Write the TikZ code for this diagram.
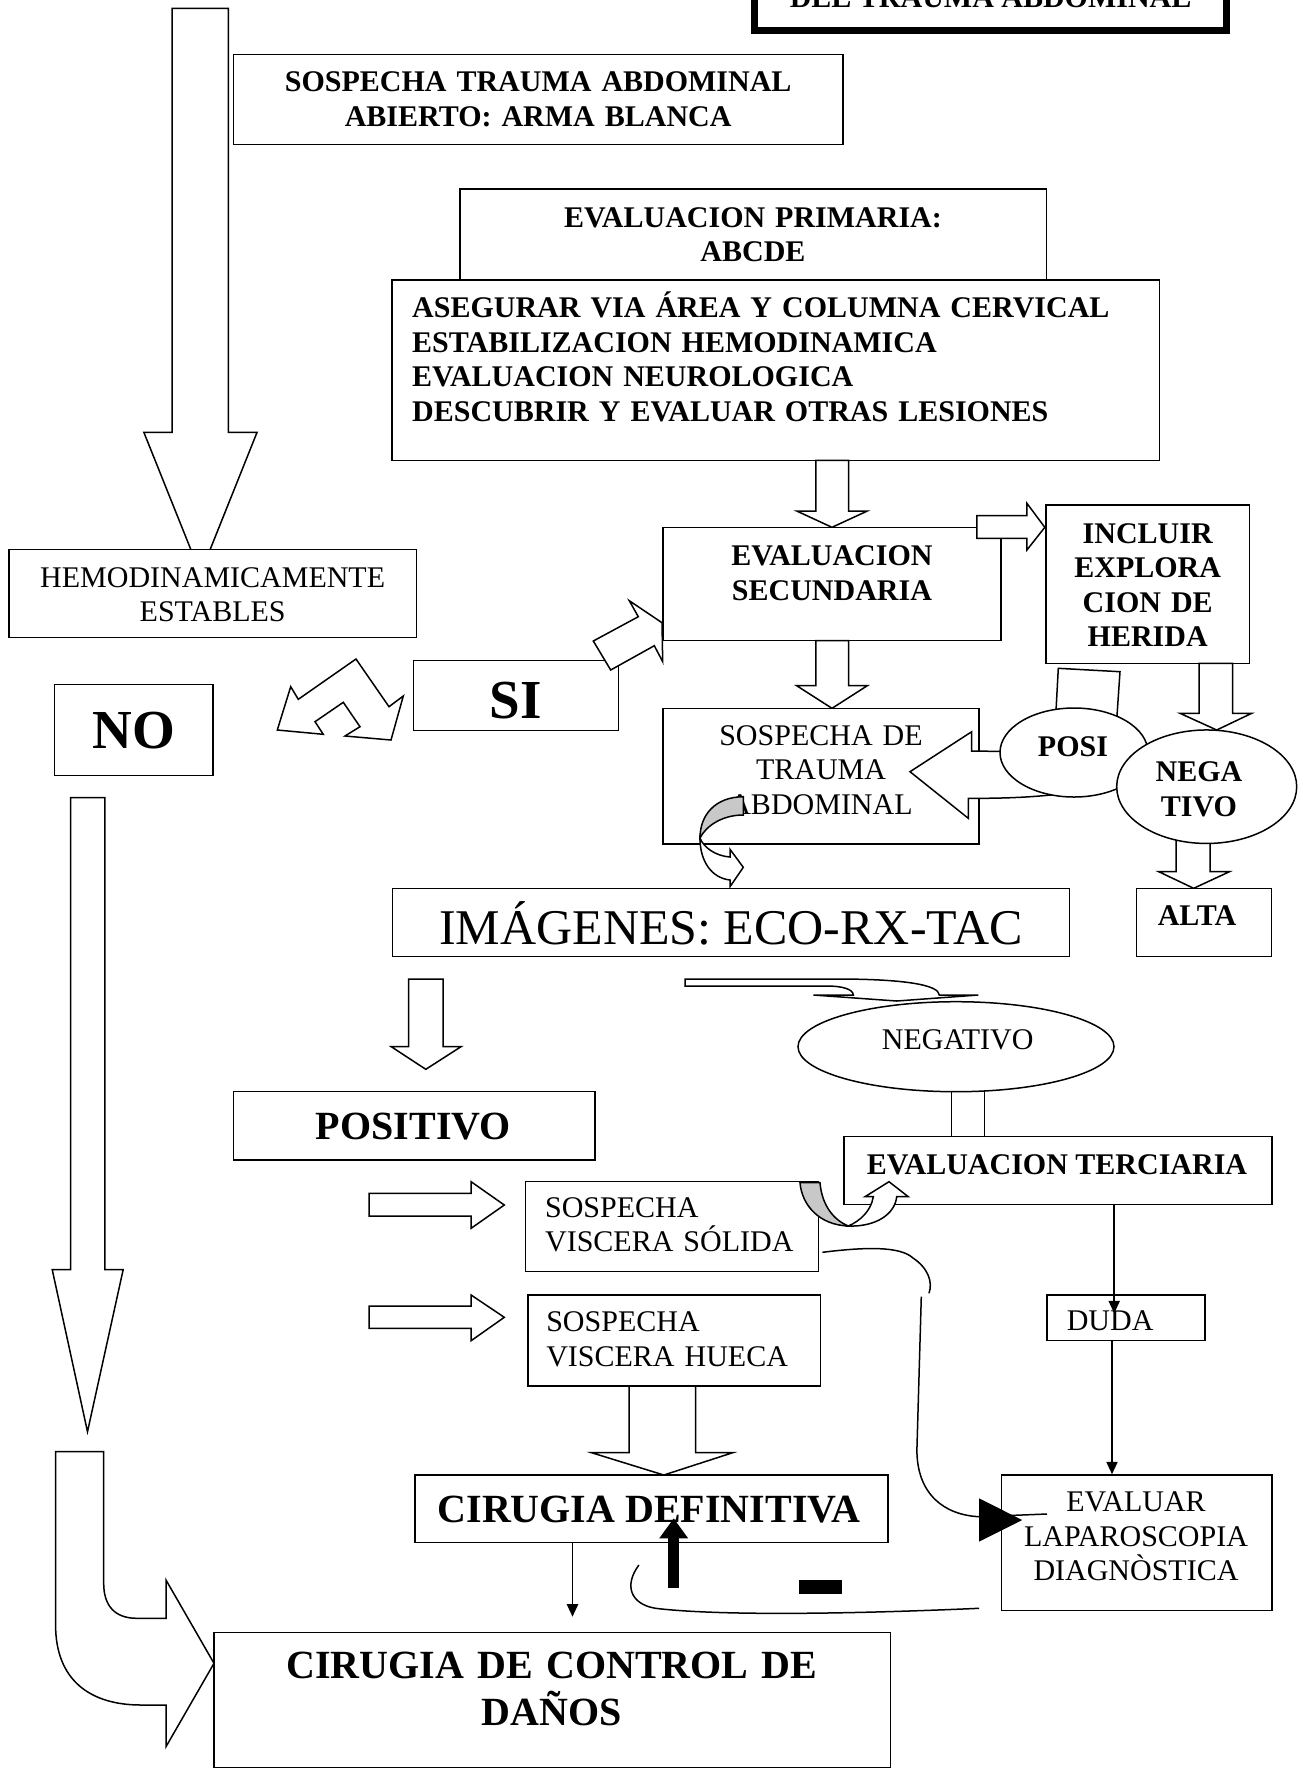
\documentclass[tikz,border=0pt]{standalone}
\usepackage{fontspec}
\setmainfont{Liberation Serif}
\usetikzlibrary{arrows.meta}
\usetikzlibrary{shapes}
\usetikzlibrary{fit}

\definecolor{bandgray}{RGB}{200,200,200}
\tikzset{
  box/.style={draw, fill=white, line width=0.6pt, inner sep=0pt},
  oval/.style={draw, fill=white, line width=0.6pt, ellipse, inner sep=0pt},
  blk/.style={draw, fill=white, line width=0.6pt, line join=miter},
  txt/.style={inner sep=0pt, anchor=base, font=\fontsize{12}{13.8}\selectfont},
  btxt/.style={txt, font=\fontsize{12}{13.8}\selectfont\bfseries},
  lnk/.style={draw, line width=0.6pt},
}

\begin{document}
\begin{tikzpicture}[x=0.4pt,y=-0.4pt,>={Triangle[length=5pt,width=4.5pt]}]
\useasboundingbox (0,0) rectangle (1301,1769);

% titulo
\node[box, line width=2.8pt, fit={(754.4,-60) (1226.9,30.2)}] (tit) {};
\node[btxt] (tit-t) at (990.6,7) {DEL TRAUMA ABDOMINAL};

% flecha grande izquierda
\draw[blk] (172,8.4) -- (228.4,8.4) -- (228.4,432.4) -- (257,432.4) -- (200.5,573.6) -- (143.9,432.4) -- (172,432.4) -- cycle;

\node[box, fit={(233.4,54.3) (843,144.3)}] (susp) {};
\node[btxt, text width=230pt, align=center] (susp-t) at (538.2,91.8) {SOSPECHA TRAUMA ABDOMINAL\\ABIERTO: ARMA BLANCA};

\node[box, fit={(459.8,189) (1046.5,279.8)}] (prim) {};
\node[btxt, text width=200pt, align=center] (prim-t) at (753,227.3) {EVALUACION PRIMARIA:\\ABCDE};

\node[box, fit={(391.8,279.8) (1159.4,460.4)}] (aseg) {};
\node[btxt, anchor=base west, text width=300pt, align=left] (aseg-t) at (411.7,317.6) {ASEGURAR VIA ÁREA Y COLUMNA CERVICAL\\ESTABILIZACION HEMODINAMICA\\EVALUACION NEUROLOGICA\\DESCUBRIR Y EVALUAR OTRAS LESIONES};

\draw[blk] (815.9,460.4) -- (848.5,460.4) -- (848.5,511) -- (867.3,511) -- (832,527.3) -- (796.7,511) -- (815.9,511) -- cycle;

\node[box, fit={(663,527.3) (1001,640.7)}] (sec) {};
\node[btxt, text width=120pt, align=center] (sec-t) at (832,565.7) {EVALUACION\\SECUNDARIA};
\draw[blk] (976.8,515.7) -- (1026.9,515.7) -- (1026.9,503.3) -- (1044.8,527.3) -- (1026.9,550) -- (1026.9,538.3) -- (976.8,538.3) -- cycle;

\node[box, fit={(1046.1,505) (1249.5,663.3)}] (incl) {};
\node[btxt, text width=80pt, align=center] (incl-t) at (1147.7,543.3) {INCLUIR\\EXPLORA\\CION DE\\HERIDA};

\node[box, fit={(8.9,549.3) (416.5,637.7)}] (hemo) {};
\node[txt, text width=180pt, align=center] (hemo-t) at (212.7,587.3) {HEMODINAMICAMENTE\\ESTABLES};

% SI / NO
\node[box, fit={(413.4,660.7) (618.3,730.7)}] (si) {};
\node[txt, font=\fontsize{22}{26}\selectfont\bfseries] (si-t) at (515.8,718.3) {SI};
\draw[blk] (593.3,641) -- (638.3,616.7) -- (629.3,600.7) -- (662,622.7) -- (662.7,661.7) -- (654.3,645.7) -- (610.7,670) -- cycle;
\draw[blk] (277.3,730) -- (290.7,686.7) -- (298.3,699.3) -- (356,659) -- (389,706.7) -- (403.3,696) -- (391,740) -- (345,736) -- (360,726.7) -- (343.3,702.3) -- (315,721.7) -- (323.3,734.3) -- cycle;

\node[box, fit={(54.5,684.3) (213,775.3)}] (no) {};
\node[txt, font=\fontsize{22}{26}\selectfont\bfseries] (no-t) at (133.7,748.3) {NO};
\draw[blk] (70.5,797.7) -- (104.9,797.7) -- (104.9,1269.5) -- (123.2,1269.5) -- (87.5,1431.7) -- (52.2,1269.5) -- (70.5,1269.5) -- cycle;

% secundaria hacia abajo
\draw[blk] (815.9,640.7) -- (848.5,640.7) -- (848.5,685.7) -- (867.3,685.7) -- (832,708.3) -- (796.7,685.7) -- (815.9,685.7) -- cycle;
\node[box, fit={(663,708.3) (979,844)}] (sosp) {};
\node[txt, text width=110pt, align=center] (sosp-t) at (821,745) {SOSPECHA DE\\TRAUMA\\ABDOMINAL};

% POSI / NEGATIVO
\draw[blk] (1040,752) -- (971.7,751) -- (971.7,731.7) -- (910,771.7) -- (968.3,818.3) -- (968.3,798.3) .. controls (1000,798.5) and (1030,797.5) .. (1060,794) -- cycle;
\draw[blk] (1058.3,668.3) -- (1120,671.7) -- (1116.7,720) -- (1055.5,720) -- cycle;
\node[oval, minimum width=59.2pt, minimum height=35.6pt] (posi) at (1074,752.5) {};
\node[btxt] (posi-t) at (1073,756.7) {POSI};
\draw[blk] (1199,663.3) -- (1232.7,663.3) -- (1232.7,713.3) -- (1251.7,713.3) -- (1216.7,730) -- (1180,713.3) -- (1199,713.3) -- cycle;
\draw[blk] (1176,835) -- (1210,835) -- (1210,871.7) -- (1229.4,871.7) -- (1193.7,888.3) -- (1158.8,871.7) -- (1176,871.7) -- cycle;
\node[oval, minimum width=72pt, minimum height=45.4pt] (nega) at (1206.7,786.7) {};
\node[btxt, text width=50pt, align=center] (nega-t) at (1199,781.7) {NEGA\\TIVO};

\node[box, fit={(1136.4,888.3) (1271.7,956.7)}] (alta) {};
\node[btxt] (alta-t) at (1197,925) {ALTA};

% flecha curva gris
\filldraw[fill=bandgray, line width=0.6pt] (743.3,796.7) .. controls (715,797) and (700,815) .. (700,838) .. controls (706,826) and (722,815) .. (743.3,815) -- cycle;
\draw[blk] (700,838) .. controls (700,862) and (712,878) .. (730,880) -- (730,886.7) -- (743.3,867.3) -- (730,849.3) -- (730,857) .. controls (716,856) and (704,848) .. (700,838) -- cycle;

% imagenes
\node[box, fit={(392.6,888.7) (1069.5,956.7)}] (img) {};
\node[txt, font=\fontsize{20}{24}\selectfont] (img-t) at (731,944.3) {IMÁGENES: ECO-RX-TAC};
\draw[blk] (408.6,979) -- (443,979) -- (443,1046.7) -- (461,1046.7) -- (425.8,1069.3) -- (391.3,1046.7) -- (408.6,1046.7) -- cycle;
\draw[blk] (685,979) -- (836.7,979) .. controls (905,979) and (939,985) .. (939.3,995) -- (978.3,995) -- (896.7,1001) -- (813.3,995) -- (853.3,995) .. controls (853,989) and (842,986) .. (826.7,986) -- (685,986) -- cycle;

\draw[blk] (951.3,1085) -- (984.5,1085) -- (984.5,1140) -- (951.3,1140) -- cycle;
\node[oval, minimum width=126.4pt, minimum height=36pt] (neg) at (956,1046.7) {};
\node[txt] (neg-t) at (957.7,1049.3) {NEGATIVO};

\node[box, fit={(233.6,1091.7) (595,1160)}] (pos) {};
\node[txt, font=\fontsize{16}{18.7}\selectfont\bfseries] (pos-t) at (413.4,1139.3) {POSITIVO};

\node[box, fit={(844,1136.7) (1272,1204.3)}] (terc) {};
\node[btxt] (terc-t) at (1057,1174) {EVALUACION TERCIARIA};

% visceras
\draw[blk] (369,1193.3) -- (471.1,1193.3) -- (471.1,1181.7) -- (504.3,1205) -- (471.1,1228.3) -- (471.1,1216) -- (369,1216) -- cycle;
\node[box, fit={(525.4,1181.7) (818.5,1271.7)}] (sol) {};
\node[txt, anchor=base west, text width=110pt, align=left] (sol-t) at (544.6,1217.3) {SOSPECHA\\VISCERA SÓLIDA};
\filldraw[fill=bandgray, line width=0.6pt] (800,1182.7) .. controls (802,1206) and (820,1225) .. (848.3,1226) .. controls (834,1220) and (822,1206) .. (820,1182.7) -- cycle;
\draw[blk] (848.3,1226) .. controls (876,1227) and (895,1214) .. (896.7,1196.7) -- (908.3,1196.7) -- (889,1181.7) -- (865,1196.7) -- (873.3,1196.7) .. controls (871,1211) and (860,1221) .. (848.3,1226) -- cycle;

\draw[blk] (369,1306) -- (471.1,1306) -- (471.1,1295) -- (504.3,1317.3) -- (471.1,1340.7) -- (471.1,1328.3) -- (369,1328.3) -- cycle;
\node[box, fit={(528,1295) (820.4,1386)}] (hue) {};
\node[txt, anchor=base west, text width=110pt, align=left] (hue-t) at (545.8,1331.7) {SOSPECHA\\VISCERA HUECA};
\draw[blk] (629,1386) -- (695.5,1386) -- (695.5,1452.7) -- (732.7,1452.7) -- (663.8,1475) -- (591.6,1452.7) -- (629,1452.7) -- cycle;

% cirugias
\node[box, fit={(414.9,1475) (887.8,1542.7)}] (def) {};
\node[txt, font=\fontsize{16}{18.7}\selectfont\bfseries] (def-t) at (649,1522.3) {CIRUGIA DEFINITIVA};

\node[box, fit={(214,1632.7) (890.3,1767.3)}] (ctrl) {};
\node[txt, font=\fontsize{16}{18.7}\selectfont\bfseries, text width=250pt, align=center] (ctrl-t) at (552,1678.3) {CIRUGIA DE CONTROL DE\\DAÑOS};
\draw[blk] (55.6,1451.7) -- (103.7,1451.7) -- (103.7,1583.3) .. controls (103.7,1606) and (115,1618.3) .. (137,1618.3) -- (166,1618.3) -- (166,1580) -- (214,1663.3) -- (166,1746.7) -- (166,1705) -- (141,1705) .. controls (90,1705) and (55.6,1680) .. (55.6,1625) -- cycle;

% duda / laparoscopia
\node[box, fit={(1047.1,1295) (1204.9,1340.7)}] (duda) {};
\node[txt, anchor=base west] (duda-t) at (1066.3,1330.7) {DUDA};
\node[box, fit={(1001.5,1475) (1272,1610.7)}] (lap) {};
\node[txt, text width=100pt, align=center] (lap-t) at (1136,1511.7) {EVALUAR\\LAPAROSCOPIA\\DIAGNÒSTICA};

% conectores finos
\coordinate (d1) at (1114.2,1313.3);
\coordinate (d2) at (1112,1340.7);
\coordinate (c1) at (572.5,1616.7);
\draw[lnk,->] (terc.south -| d1) -- (d1);
\draw[lnk,->] (d2) -- (lap.north -| d2);
\draw[lnk,->] (def.south -| c1) -- (c1);

\coordinate (s1) at (822.4,1252.3);
\coordinate (s2) at (929,1293.3);
\coordinate (s3) at (921.3,1296.7);
\coordinate (s4) at (979,1516.7);
\draw[lnk] (s1) .. controls (865,1247) and (900,1246) .. (913,1258) .. controls (928,1268) and (933,1282) .. (s2);
\draw[lnk] (s3) -- (916.9,1450) .. controls (917,1495) and (945,1515) .. (s4) -- (1047,1514);
\fill (979,1498.3) -- (1022.2,1520) -- (979,1541.7) -- cycle;

\coordinate (r0) at (979,1608.3);
\draw[lnk] (r0) .. controls (850,1614) and (720,1616) .. (655.5,1608.3) .. controls (630,1604) and (624,1585) .. (638.9,1565);

\draw[line width=4.4pt, -{Triangle[length=8pt,width=11pt]}] (673.7,1588.3) -- (673.7,1518.3);
\fill (799,1580) rectangle (842,1594);
\end{tikzpicture}
\end{document}
